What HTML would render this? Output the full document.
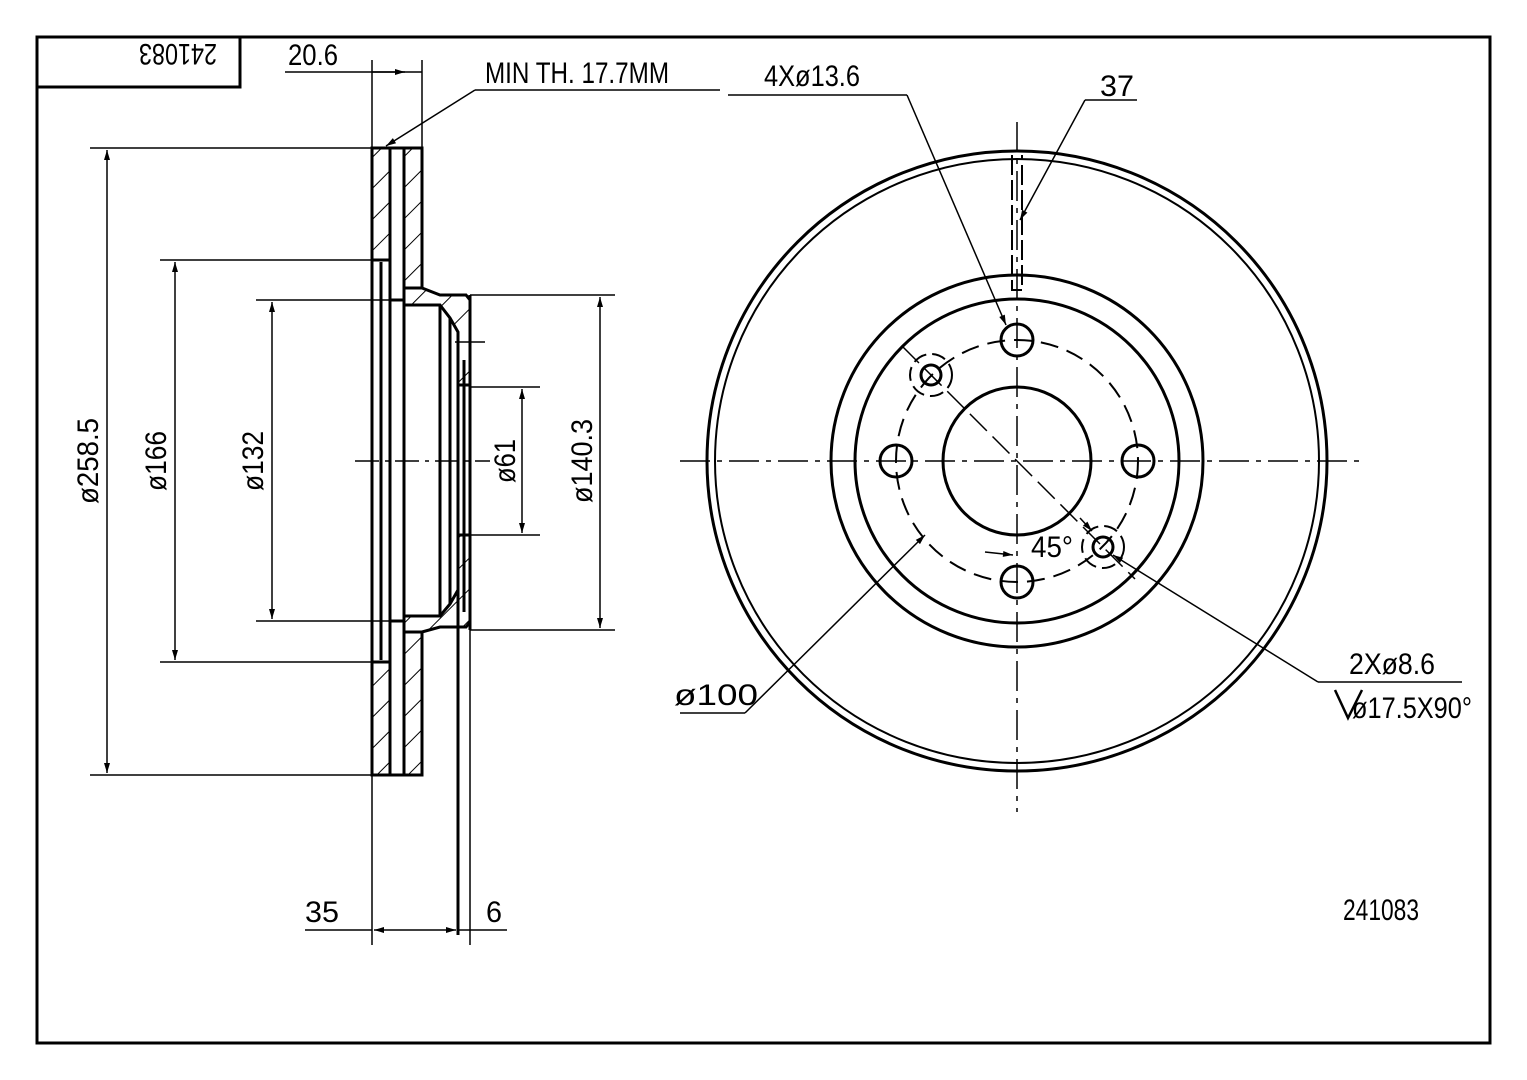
<!DOCTYPE html>
<html><head><meta charset="utf-8"><style>
html,body{margin:0;padding:0;background:#fff}
svg{display:block}
text{font-family:"Liberation Sans Narrow","Liberation Sans",sans-serif;font-size:30px;fill:#000}
</style></head><body>
<svg width="1527" height="1080" viewBox="0 0 1527 1080" xmlns="http://www.w3.org/2000/svg">
<defs>
<pattern id="h" patternUnits="userSpaceOnUse" width="22" height="22" patternTransform="rotate(45)">
<line x1="0" y1="0" x2="0" y2="22" stroke="#000" stroke-width="2"/>
</pattern>
<marker id="a" viewBox="0 0 10 10" refX="10" refY="5" markerWidth="14" markerHeight="10" orient="auto-start-reverse" markerUnits="userSpaceOnUse"><path d="M0,2 L10,5 L0,8 z" fill="#000"/></marker>
</defs>
<rect x="37" y="37" width="1453" height="1006" fill="none" stroke="#000" stroke-width="3"/>
<polyline points="37,87 240,87 240,37" fill="none" stroke="#000" stroke-width="3"/>
<text x="0" y="0" transform="translate(178,52) rotate(180)" text-anchor="middle" dominant-baseline="middle" textLength="78" lengthAdjust="spacingAndGlyphs">241083</text>

<g stroke="#000" fill="none">
<rect x="372" y="148" width="18" height="112" fill="url(#h)" stroke-width="3"/>
<rect x="372" y="662" width="18" height="113" fill="url(#h)" stroke-width="3"/>
<rect x="404" y="148" width="18" height="140" fill="url(#h)" stroke-width="3"/>
<rect x="404" y="632" width="18" height="143" fill="url(#h)" stroke-width="3"/>
<path d="M404,288 L422,288 L440,295 L466,295 L470,300 L470,385 L458,385 L458,332 L450,318 L440,305 L404,305 z" fill="url(#h)" stroke-width="3"/>
<path d="M404,632 L422,632 L440,627 L466,627 L470,622 L470,535 L458,535 L458,590 L450,604 L440,616 L404,616 z" fill="url(#h)" stroke-width="3"/>
<rect x="459" y="335" width="10" height="26" fill="#fff" stroke="none"/>
<g stroke-width="3">
<line x1="372" y1="148" x2="372" y2="775"/>
<line x1="390" y1="148" x2="390" y2="775"/>
<line x1="404" y1="148" x2="404" y2="775"/>
<line x1="422" y1="148" x2="422" y2="288"/>
<line x1="422" y1="632" x2="422" y2="775"/>
<line x1="381" y1="262" x2="381" y2="660"/>
<line x1="440" y1="305" x2="440" y2="616"/>
<line x1="450" y1="318" x2="450" y2="604"/>
<line x1="470" y1="295" x2="470" y2="630"/>
<line x1="390" y1="148" x2="404" y2="148"/>
<line x1="390" y1="775" x2="404" y2="775"/>
<line x1="390" y1="300" x2="404" y2="300"/>
<line x1="390" y1="621" x2="404" y2="621"/>
<line x1="464" y1="360" x2="464" y2="612"/>
<line x1="458" y1="332" x2="458" y2="935"/>
</g>
<g stroke-width="1.5">
<line x1="90" y1="148" x2="372" y2="148"/>
<line x1="90" y1="775" x2="372" y2="775"/>
<line x1="160" y1="260" x2="372" y2="260"/>
<line x1="160" y1="662" x2="372" y2="662"/>
<line x1="256" y1="300" x2="390" y2="300"/>
<line x1="256" y1="621" x2="390" y2="621"/>
<line x1="470" y1="295" x2="615" y2="295"/>
<line x1="470" y1="630" x2="615" y2="630"/>
<line x1="470" y1="387" x2="540" y2="387"/>
<line x1="470" y1="535" x2="540" y2="535"/>
<line x1="107" y1="150" x2="107" y2="773" marker-start="url(#a)" marker-end="url(#a)"/>
<line x1="175" y1="262" x2="175" y2="660" marker-start="url(#a)" marker-end="url(#a)"/>
<line x1="272" y1="302" x2="272" y2="619" marker-start="url(#a)" marker-end="url(#a)"/>
<line x1="522" y1="389" x2="522" y2="533" marker-start="url(#a)" marker-end="url(#a)"/>
<line x1="600" y1="297" x2="600" y2="628" marker-start="url(#a)" marker-end="url(#a)"/>
<line x1="355" y1="461" x2="490" y2="461" stroke-dasharray="24 6 4 6"/>
<line x1="455" y1="342" x2="485" y2="342"/>
<line x1="372" y1="60" x2="372" y2="148"/>
<line x1="422" y1="60" x2="422" y2="148"/>
<line x1="285" y1="72" x2="422" y2="72"/>
<line x1="372" y1="72" x2="405" y2="72" marker-end="url(#a)"/>
<line x1="372" y1="775" x2="372" y2="945"/>
<line x1="470" y1="630" x2="470" y2="945"/>
<line x1="305" y1="930" x2="372" y2="930"/>
<line x1="374" y1="930" x2="456" y2="930" marker-start="url(#a)" marker-end="url(#a)"/>
<line x1="458" y1="930" x2="507" y2="930"/>
<line x1="720" y1="90" x2="475" y2="90"/>
<line x1="475" y1="90" x2="386" y2="146" marker-end="url(#a)"/>
</g>
</g>
<text x="313" y="65" text-anchor="middle" textLength="50" lengthAdjust="spacingAndGlyphs">20.6</text>
<text x="577" y="83" text-anchor="middle" textLength="184" lengthAdjust="spacingAndGlyphs">MIN TH. 17.7MM</text>
<text transform="translate(98,461) rotate(-90)" text-anchor="middle" textLength="86" lengthAdjust="spacingAndGlyphs">ø258.5</text>
<text transform="translate(166,461) rotate(-90)" text-anchor="middle" textLength="60" lengthAdjust="spacingAndGlyphs">ø166</text>
<text transform="translate(263,461) rotate(-90)" text-anchor="middle" textLength="60" lengthAdjust="spacingAndGlyphs">ø132</text>
<text transform="translate(515,461) rotate(-90)" text-anchor="middle" textLength="44" lengthAdjust="spacingAndGlyphs">ø61</text>
<text transform="translate(592,461) rotate(-90)" text-anchor="middle" textLength="84" lengthAdjust="spacingAndGlyphs">ø140.3</text>
<text x="322" y="922" text-anchor="middle" textLength="34" lengthAdjust="spacingAndGlyphs">35</text>
<text x="494" y="922" text-anchor="middle" textLength="16" lengthAdjust="spacingAndGlyphs">6</text>

<g stroke="#000" fill="none" stroke-width="3">
<circle cx="1017" cy="461" r="310"/>
<circle cx="1017" cy="461" r="302" stroke-width="2"/>
<circle cx="1017" cy="461" r="186"/>
<circle cx="1017" cy="461" r="162"/>
<circle cx="1017" cy="461" r="74"/>
<circle cx="1017" cy="461" r="121" stroke-dasharray="18 9" stroke-width="2"/>
<circle cx="1017" cy="340" r="16"/>
<circle cx="1017" cy="582" r="16"/>
<circle cx="896" cy="461" r="16"/>
<circle cx="1138" cy="461" r="16"/>
<circle cx="931" cy="375" r="10"/>
<circle cx="1103" cy="547" r="10"/>
<circle cx="931" cy="375" r="21" stroke-dasharray="14 6" stroke-width="2"/>
<circle cx="1103" cy="547" r="21" stroke-dasharray="14 6" stroke-width="2"/>
<path d="M1012,155 L1012,290 L1022,290 L1022,155" stroke-width="2" stroke-dasharray="20 5"/>
</g>
<g stroke="#000" fill="none" stroke-width="1.5">
<line x1="680" y1="461" x2="1365" y2="461" stroke-dasharray="30 7 5 7"/>
<line x1="1017" y1="122" x2="1017" y2="812" stroke-dasharray="30 7 5 7"/>
<line x1="902" y1="346" x2="1135" y2="579" stroke-dasharray="24 8"/>
<line x1="728" y1="95" x2="907" y2="95"/>
<line x1="907" y1="95" x2="1006" y2="325" marker-end="url(#a)"/>
<line x1="1137" y1="100" x2="1085" y2="100"/>
<line x1="1085" y1="100" x2="1020" y2="220" marker-end="url(#a)"/>
<line x1="680" y1="713" x2="745" y2="713"/>
<line x1="745" y1="713" x2="925" y2="535" marker-end="url(#a)"/>
<line x1="1462" y1="682" x2="1318" y2="682"/>
<line x1="1318" y1="682" x2="1113" y2="555" marker-end="url(#a)"/>
<path d="M1080,518 L1092,531" marker-end="url(#a)"/>
<path d="M985,552 L1013,555" marker-end="url(#a)"/>
<path d="M1335,690 L1348,718 L1362,690" stroke-width="2.5"/>
</g>
<text x="812" y="86" text-anchor="middle" textLength="96" lengthAdjust="spacingAndGlyphs">4Xø13.6</text>
<text x="1117" y="96" text-anchor="middle" textLength="34" lengthAdjust="spacingAndGlyphs">37</text>
<text x="1052" y="557" text-anchor="middle" textLength="42" lengthAdjust="spacingAndGlyphs">45°</text>
<text x="716" y="705" text-anchor="middle" textLength="84" lengthAdjust="spacingAndGlyphs">ø100</text>
<text x="1392" y="674" text-anchor="middle" textLength="86" lengthAdjust="spacingAndGlyphs">2Xø8.6</text>
<text x="1412" y="718" text-anchor="middle" textLength="120" lengthAdjust="spacingAndGlyphs">ø17.5X90°</text>
<text x="1381" y="920" text-anchor="middle" textLength="76" lengthAdjust="spacingAndGlyphs">241083</text>
</svg>
</body></html>
